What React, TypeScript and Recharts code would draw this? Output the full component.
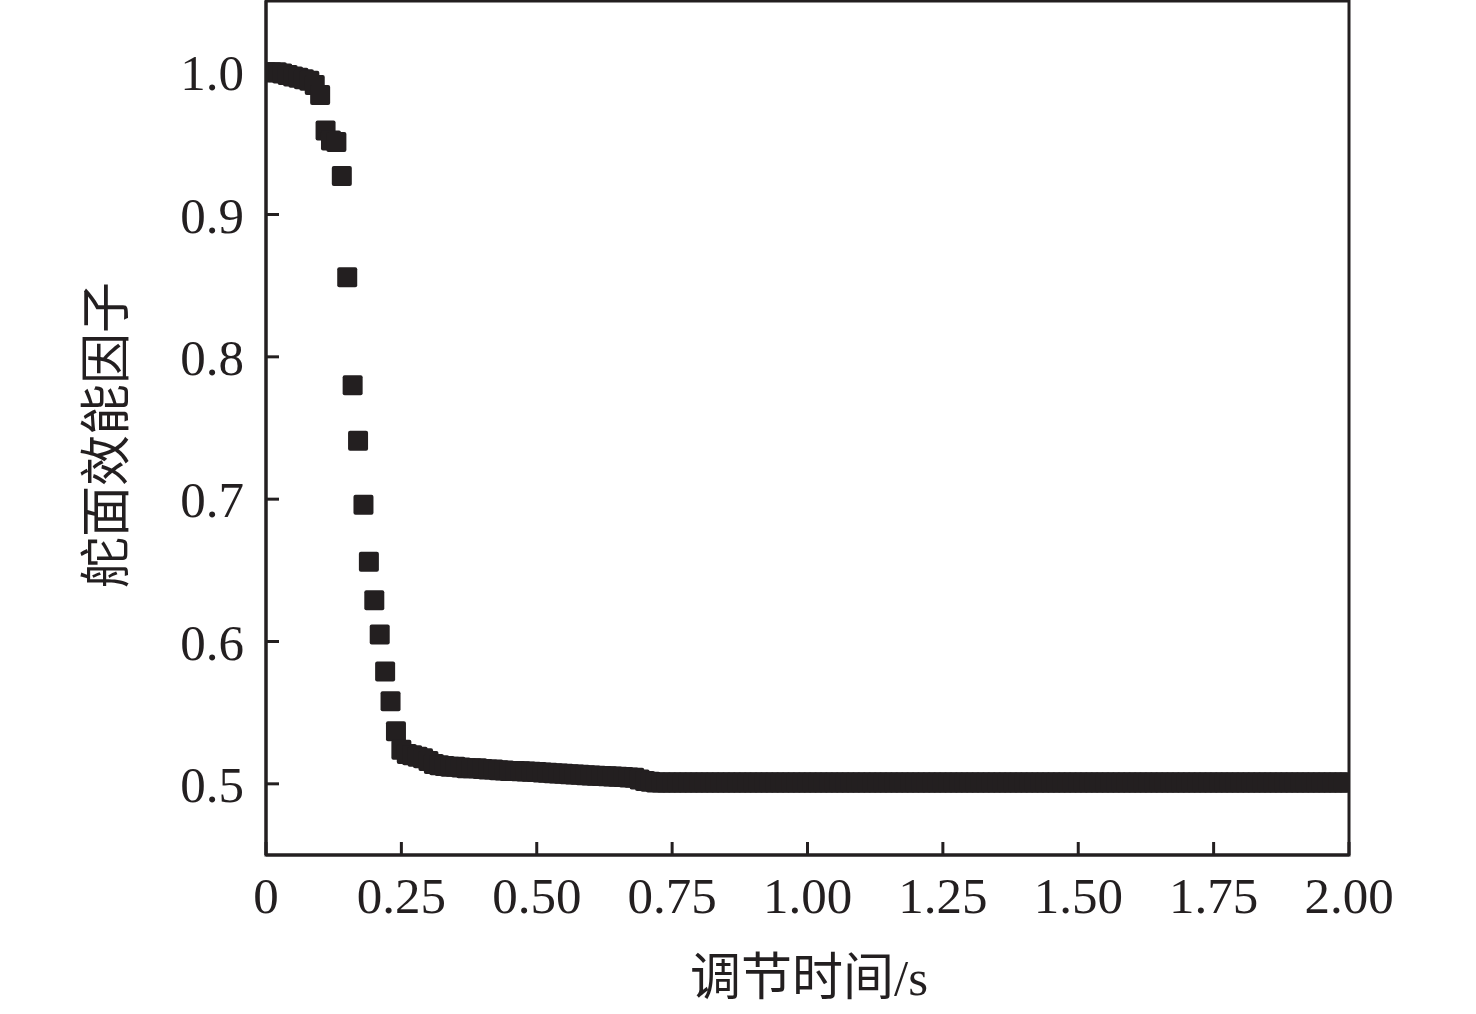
import React from 'react';
import { ScatterChart, Scatter, XAxis, YAxis, ReferenceArea, Label } from 'recharts';

// Adjustment time (s)
const times: number[] = [
  0.0, 0.01, 0.02, 0.03, 0.04, 0.05, 0.06, 0.07, 0.08, 0.09,
  0.1, 0.11, 0.12, 0.13, 0.14, 0.15, 0.16, 0.17, 0.18, 0.19,
  0.2, 0.21, 0.22, 0.23, 0.24, 0.25, 0.26, 0.27, 0.28, 0.29,
  0.3, 0.31, 0.32, 0.33, 0.34, 0.35, 0.36, 0.37, 0.38, 0.39,
  0.4, 0.41, 0.42, 0.43, 0.44, 0.45, 0.46, 0.47, 0.48, 0.49,
  0.5, 0.51, 0.52, 0.53, 0.54, 0.55, 0.56, 0.57, 0.58, 0.59,
  0.6, 0.61, 0.62, 0.63, 0.64, 0.65, 0.66, 0.67, 0.68, 0.69,
  0.7, 0.71, 0.72, 0.73, 0.74, 0.75, 0.76, 0.77, 0.78, 0.79,
  0.8, 0.81, 0.82, 0.83, 0.84, 0.85, 0.86, 0.87, 0.88, 0.89,
  0.9, 0.91, 0.92, 0.93, 0.94, 0.95, 0.96, 0.97, 0.98, 0.99,
  1.0, 1.01, 1.02, 1.03, 1.04, 1.05, 1.06, 1.07, 1.08, 1.09,
  1.1, 1.11, 1.12, 1.13, 1.14, 1.15, 1.16, 1.17, 1.18, 1.19,
  1.2, 1.21, 1.22, 1.23, 1.24, 1.25, 1.26, 1.27, 1.28, 1.29,
  1.3, 1.31, 1.32, 1.33, 1.34, 1.35, 1.36, 1.37, 1.38, 1.39,
  1.4, 1.41, 1.42, 1.43, 1.44, 1.45, 1.46, 1.47, 1.48, 1.49,
  1.5, 1.51, 1.52, 1.53, 1.54, 1.55, 1.56, 1.57, 1.58, 1.59,
  1.6, 1.61, 1.62, 1.63, 1.64, 1.65, 1.66, 1.67, 1.68, 1.69,
  1.7, 1.71, 1.72, 1.73, 1.74, 1.75, 1.76, 1.77, 1.78, 1.79,
  1.8, 1.81, 1.82, 1.83, 1.84, 1.85, 1.86, 1.87, 1.88, 1.89,
  1.9, 1.91, 1.92, 1.93, 1.94, 1.95, 1.96, 1.97, 1.98, 1.99,
  2.0,
];

// Control surface efficiency factor
const efficiency: number[] = [
  1.0, 1.0, 1.0, 0.999, 0.998, 0.997, 0.996, 0.995, 0.994, 0.991,
  0.984, 0.959, 0.952, 0.951, 0.927, 0.856, 0.78, 0.741, 0.696, 0.656,
  0.629, 0.605, 0.579, 0.558, 0.537, 0.524, 0.521, 0.52, 0.519, 0.518,
  0.516, 0.514, 0.513, 0.5125, 0.512, 0.512, 0.5115, 0.511, 0.511, 0.511,
  0.5105, 0.51, 0.51, 0.5095, 0.5093, 0.509, 0.509, 0.5088, 0.5086, 0.5085,
  0.5083, 0.508, 0.5078, 0.5075, 0.5072, 0.507, 0.5068, 0.5065, 0.5063, 0.506,
  0.5058, 0.5056, 0.5055, 0.5053, 0.5052, 0.505, 0.5048, 0.5045, 0.5042, 0.503,
  0.502, 0.5015, 0.501, 0.501, 0.501, 0.501, 0.501, 0.501, 0.501, 0.501,
  0.501, 0.501, 0.501, 0.501, 0.501, 0.501, 0.501, 0.501, 0.501, 0.501,
  0.501, 0.501, 0.501, 0.501, 0.501, 0.501, 0.501, 0.501, 0.501, 0.501,
  0.501, 0.501, 0.501, 0.501, 0.501, 0.501, 0.501, 0.501, 0.501, 0.501,
  0.501, 0.501, 0.501, 0.501, 0.501, 0.501, 0.501, 0.501, 0.501, 0.501,
  0.501, 0.501, 0.501, 0.501, 0.501, 0.501, 0.501, 0.501, 0.501, 0.501,
  0.501, 0.501, 0.501, 0.501, 0.501, 0.501, 0.501, 0.501, 0.501, 0.501,
  0.501, 0.501, 0.501, 0.501, 0.501, 0.501, 0.501, 0.501, 0.501, 0.501,
  0.501, 0.501, 0.501, 0.501, 0.501, 0.501, 0.501, 0.501, 0.501, 0.501,
  0.501, 0.501, 0.501, 0.501, 0.501, 0.501, 0.501, 0.501, 0.501, 0.501,
  0.501, 0.501, 0.501, 0.501, 0.501, 0.501, 0.501, 0.501, 0.501, 0.501,
  0.501, 0.501, 0.501, 0.501, 0.501, 0.501, 0.501, 0.501, 0.501, 0.501,
  0.501, 0.501, 0.501, 0.501, 0.501, 0.501, 0.501, 0.501, 0.501, 0.501,
  0.501,
];

const xTicks: number[] = [0, 0.25, 0.5, 0.75, 1.0, 1.25, 1.5, 1.75, 2.0];
const yTicks: number[] = [0.5, 0.6, 0.7, 0.8, 0.9, 1.0];
const xTitle = '调节时间/s';
const yTitle = '舵面效能因子';

const INK = '#231f20';
const FONT = "'Liberation Serif', 'Noto Sans CJK SC', serif";

const data = times.map((t, i) => ({ t, v: efficiency[i] }));

const SquareMark = (props: any) => {
  const { cx, cy } = props;
  if (cx == null || cy == null) return null;
  return <rect x={cx - 10} y={cy - 10} width={20} height={20} rx={2} ry={2} fill={INK} />;
};

const XTitle = () => (
  <text x={809} y={978} textAnchor="middle" dominantBaseline="central" fill={INK} fontSize={51} fontFamily={FONT}>
    {xTitle}
  </text>
);

const YTitle = () => (
  <text
    x={107}
    y={435}
    transform="rotate(-90 107 435)"
    textAnchor="middle"
    dominantBaseline="central"
    fill={INK}
    fontSize={51}
    fontFamily={FONT}
  >
    {yTitle}
  </text>
);

export default function App() {
  return (
    <div style={{ position: 'absolute', left: 0, top: 0, width: 1476, height: 1014, background: '#fff' }}>
      <ScatterChart width={1476} height={1014} margin={{ top: 1, right: 127, bottom: 59, left: 116 }}>
        <XAxis
          dataKey="t"
          type="number"
          domain={[0, 2]}
          ticks={xTicks}
          interval={0}
          allowDataOverflow
          height={100}
          tickFormatter={(v: number) => (v === 0 ? '0' : v.toFixed(2))}
          axisLine={{ stroke: INK, strokeWidth: 3 }}
          tickLine={{ stroke: INK, strokeWidth: 3 }}
          tickSize={-13}
          tickMargin={35}
          tick={{ fill: INK, fontSize: 51, fontFamily: FONT }}
        >
          <Label content={<XTitle />} />
        </XAxis>
        <YAxis
          dataKey="v"
          type="number"
          domain={[0.45, 1.05]}
          ticks={yTicks}
          interval={0}
          allowDataOverflow
          width={150}
          tickFormatter={(v: number) => v.toFixed(1)}
          axisLine={{ stroke: INK, strokeWidth: 3 }}
          tickLine={{ stroke: INK, strokeWidth: 3 }}
          tickSize={-13}
          tickMargin={35}
          tick={{ fill: INK, fontSize: 51, fontFamily: FONT }}
        >
          <Label content={<YTitle />} />
        </YAxis>
        <Scatter data={data} shape={<SquareMark />} isAnimationActive={false} />
        <ReferenceArea x1={0} x2={2} y1={0.45} y2={1.05} fill="none" stroke={INK} strokeWidth={3} />
      </ScatterChart>
    </div>
  );
}
